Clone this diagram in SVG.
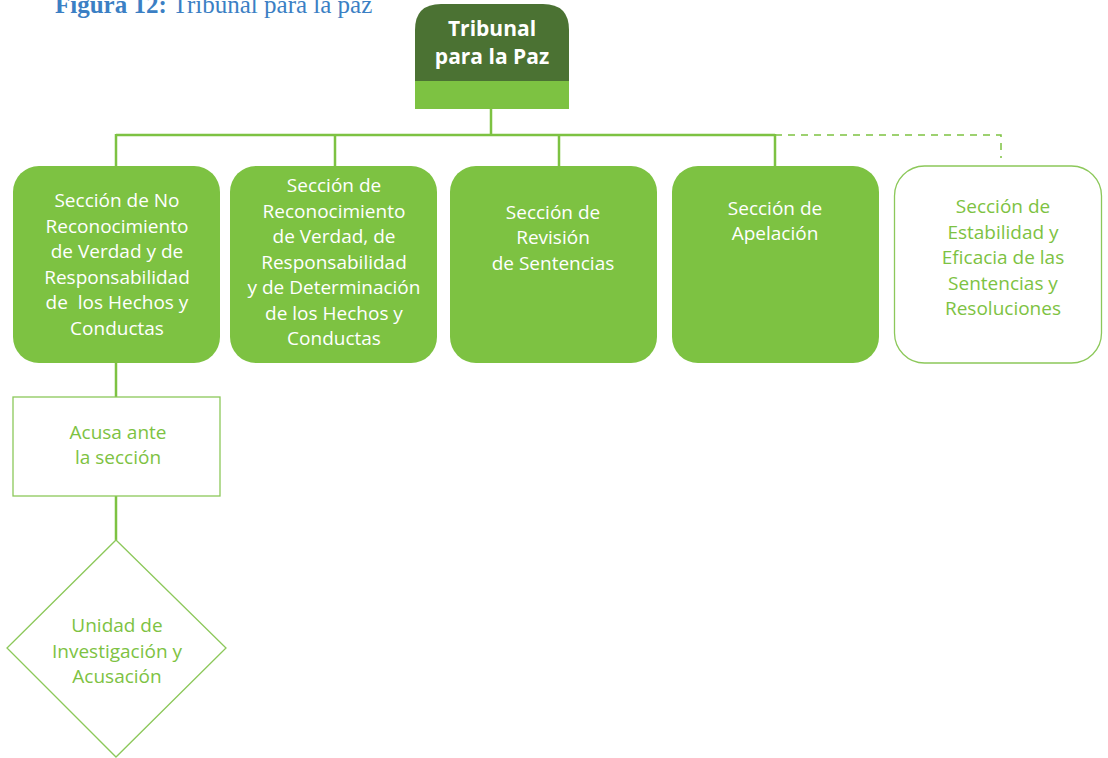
<svg xmlns="http://www.w3.org/2000/svg" width="1108" height="758" viewBox="0 0 1108 758">
<style>
.t{font-family:"Open Sans","Noto Sans","DejaVu Sans",sans-serif;font-size:19px;text-anchor:middle}
.w{fill:#ffffff}
.g{fill:#7dc242}
.box{fill:#7dc242}
.out{fill:#ffffff;stroke:#8cc85a;stroke-width:1.3}
.ln{stroke:#7dc242;stroke-width:2.5;fill:none}
.dash{stroke:#7dc242;stroke-width:1.5;fill:none;stroke-dasharray:7 6}
.ttl{font-family:"Liberation Serif","DejaVu Serif",serif;font-size:25px;fill:#3b7fc4}
</style>
<text class="ttl" x="55" y="13"><tspan font-weight="bold">Figura 12:</tspan> Tribunal para la paz</text>
<g id="connectors">
<path class="ln" d="M491 109V135M116 135H775M116 134V166M335 134V166M559 134V166M775 134V166M116 363V397M116 496V540"/>
<path class="dash" d="M775 135H1001V158"/>
</g>
<g id="tribunal">
<path d="M415 109V30Q415 4 441 4H543Q569 4 569 30V109Z" fill="#4b7233"/>
<rect x="415" y="81" width="154" height="28" fill="#7dc242"/>
<text class="t w" font-weight="bold" x="492" y="36" style="font-size:21px">Tribunal</text>
<text class="t w" font-weight="bold" x="492" y="64" style="font-size:21px">para la Paz</text>
</g>
<g id="sec1">
<rect class="box" x="13" y="166" width="207" height="197" rx="26"/>
<text class="t w"><tspan x="117" y="207">Sección de No</tspan><tspan x="117" y="233">Reconocimiento</tspan><tspan x="117" y="258">de Verdad y de</tspan><tspan x="117" y="284">Responsabilidad</tspan><tspan x="117" y="309" xml:space="preserve">de  los Hechos y</tspan><tspan x="117" y="335">Conductas</tspan></text>
</g>
<g id="sec2">
<rect class="box" x="230" y="166" width="207" height="197" rx="26"/>
<text class="t w"><tspan x="334" y="192">Sección de</tspan><tspan x="334" y="218">Reconocimiento</tspan><tspan x="334" y="243">de Verdad, de</tspan><tspan x="334" y="269">Responsabilidad</tspan><tspan x="334" y="294">y de Determinación</tspan><tspan x="334" y="320">de los Hechos y</tspan><tspan x="334" y="345">Conductas</tspan></text>
</g>
<g id="sec3">
<rect class="box" x="450" y="166" width="207" height="197" rx="26"/>
<text class="t w"><tspan x="553" y="219">Sección de</tspan><tspan x="553" y="244">Revisión</tspan><tspan x="553" y="270">de Sentencias</tspan></text>
</g>
<g id="sec4">
<rect class="box" x="672" y="166" width="207" height="197" rx="26"/>
<text class="t w"><tspan x="775" y="215">Sección de</tspan><tspan x="775" y="240">Apelación</tspan></text>
</g>
<g id="sec5">
<rect class="out" x="894.5" y="166" width="207" height="197" rx="30"/>
<text class="t g"><tspan x="1003" y="213">Sección de</tspan><tspan x="1003" y="239">Estabilidad y</tspan><tspan x="1003" y="264">Eficacia de las</tspan><tspan x="1003" y="290">Sentencias y</tspan><tspan x="1003" y="315">Resoluciones</tspan></text>
</g>
<g id="acusa">
<rect class="out" x="13" y="397" width="207" height="99"/>
<text class="t g"><tspan x="118" y="439">Acusa ante</tspan><tspan x="118" y="464">la sección</tspan></text>
</g>
<g id="unidad">
<polygon class="out" points="116,540 226,648 116,757 7,648"/>
<text class="t g"><tspan x="117" y="632">Unidad de</tspan><tspan x="117" y="658">Investigación y</tspan><tspan x="117" y="683">Acusación</tspan></text>
</g>
</svg>
